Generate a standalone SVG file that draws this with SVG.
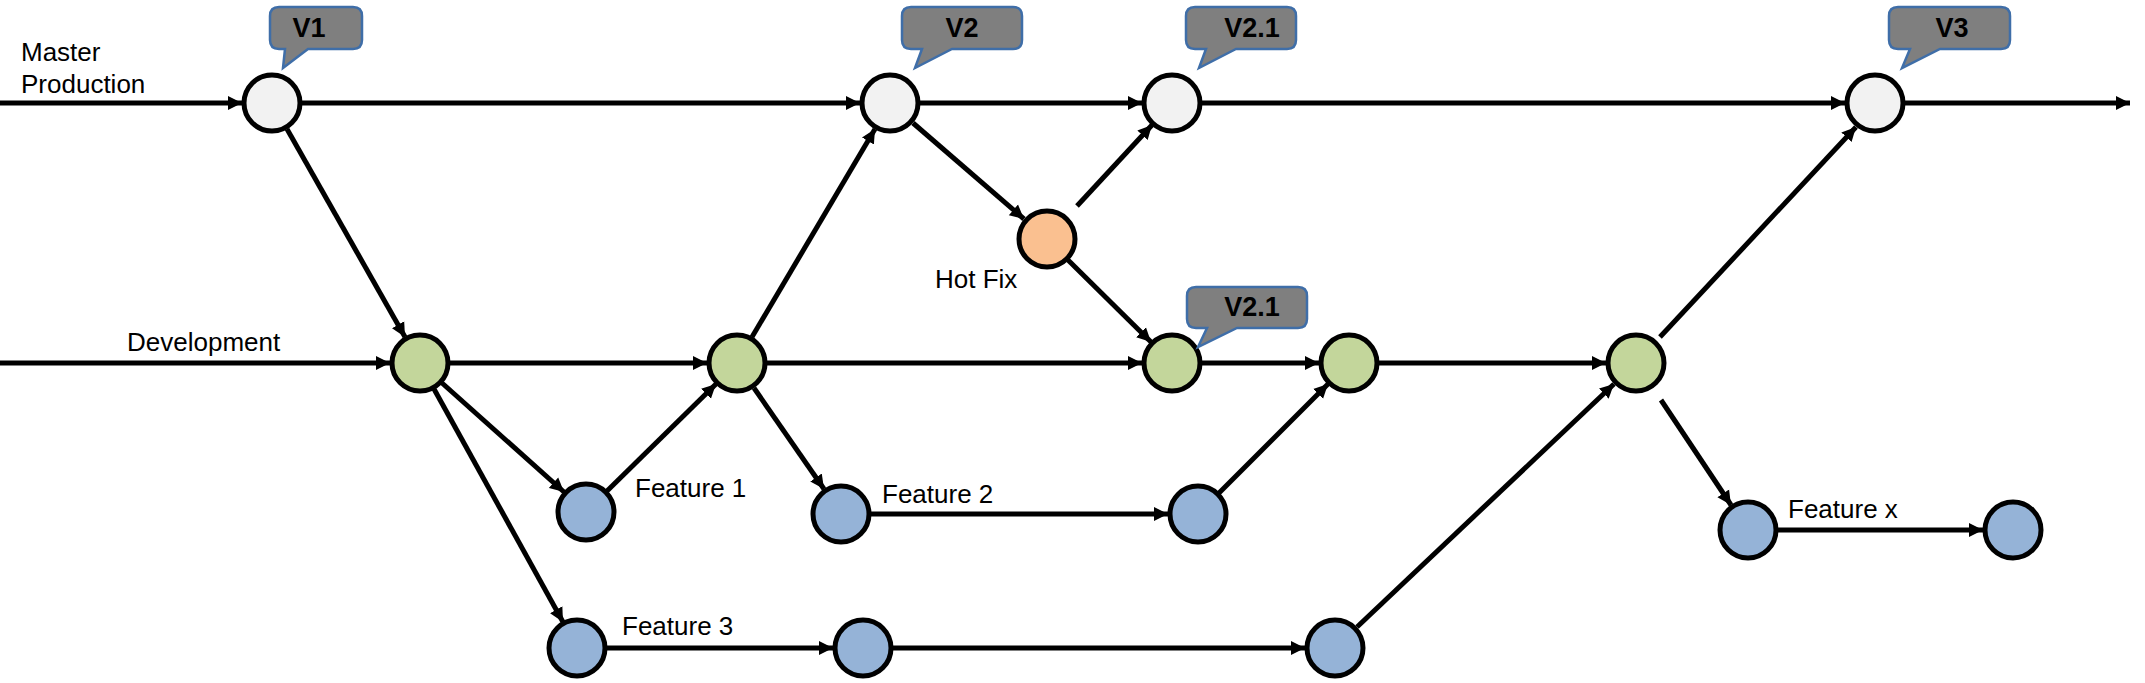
<svg xmlns="http://www.w3.org/2000/svg" width="2145" height="683" viewBox="0 0 2145 683">
<style>
.n{stroke:#000;stroke-width:5}
.m{fill:#F2F2F2}.d{fill:#C3D69B}.f{fill:#95B3D7}.h{fill:#FAC090}
.c line{stroke:#000;stroke-width:5;marker-end:url(#ah)}
.lbl{font-family:"Liberation Sans",Arial,sans-serif;font-size:26px;fill:#000}
.co{fill:#7F7F7F;stroke:#3F6EA8;stroke-width:2.5}
.ct{font-family:"Liberation Sans",Arial,sans-serif;font-size:27px;font-weight:bold;fill:#000;text-anchor:middle}
</style>
<defs>
<marker id="ah" markerUnits="userSpaceOnUse" markerWidth="15" markerHeight="15" refX="14" refY="7" orient="auto" viewBox="0 0 15 14">
<path d="M0,0 L14,7 L0,14 Z" fill="#000"/>
</marker>
</defs>
<rect width="2145" height="683" fill="#fff"/>
<g id="connectors" class="c">
<line x1="0" y1="103" x2="242" y2="103"/>
<line x1="302" y1="103" x2="860" y2="103"/>
<line x1="920" y1="103" x2="1142" y2="103"/>
<line x1="1202" y1="103" x2="1845" y2="103"/>
<line x1="1905" y1="103" x2="2130" y2="103"/>
<line x1="287" y1="129" x2="405" y2="337"/>
<line x1="0" y1="363" x2="390" y2="363"/>
<line x1="450" y1="363" x2="707" y2="363"/>
<line x1="767" y1="363" x2="1142" y2="363"/>
<line x1="1202" y1="363" x2="1319" y2="363"/>
<line x1="1379" y1="363" x2="1606" y2="363"/>
<line x1="752" y1="337" x2="875" y2="129"/>
<line x1="913" y1="123" x2="1024" y2="219"/>
<line x1="1077" y1="206" x2="1152" y2="125"/>
<line x1="1068" y1="260" x2="1151" y2="342"/>
<line x1="442" y1="383" x2="564" y2="492"/>
<line x1="607" y1="491" x2="716" y2="384"/>
<line x1="754" y1="388" x2="824" y2="489"/>
<line x1="871" y1="514" x2="1168" y2="514"/>
<line x1="1219" y1="493" x2="1328" y2="384"/>
<line x1="434" y1="389" x2="563" y2="622"/>
<line x1="607" y1="648" x2="833" y2="648"/>
<line x1="893" y1="648" x2="1305" y2="648"/>
<line x1="1357" y1="627" x2="1614" y2="384"/>
<line x1="1660" y1="337" x2="1856" y2="127"/>
<line x1="1661" y1="400" x2="1731" y2="505"/>
<line x1="1778" y1="530" x2="1983" y2="530"/>
</g>
<g id="master-label"><text class="lbl" x="21" y="61">Master</text><text class="lbl" x="21" y="93">Production</text></g>
<g id="dev-label"><text class="lbl" x="127" y="351">Development</text></g>
<g id="m1"><circle class="n m" cx="272" cy="103" r="28"/></g>
<g id="m2"><circle class="n m" cx="890" cy="103" r="28"/></g>
<g id="m3"><circle class="n m" cx="1172" cy="103" r="28"/></g>
<g id="m4"><circle class="n m" cx="1875" cy="103" r="28"/></g>
<g id="hotfix"><circle class="n h" cx="1047" cy="239" r="28"/><text class="lbl" x="935" y="288">Hot Fix</text></g>
<g id="d1"><circle class="n d" cx="420" cy="363" r="28"/></g>
<g id="d2"><circle class="n d" cx="737" cy="363" r="28"/></g>
<g id="d3"><circle class="n d" cx="1172" cy="363" r="28"/></g>
<g id="d4"><circle class="n d" cx="1349" cy="363" r="28"/></g>
<g id="d5"><circle class="n d" cx="1636" cy="363" r="28"/></g>
<g id="f1"><circle class="n f" cx="586" cy="512" r="28"/><text class="lbl" x="635" y="497">Feature 1</text></g>
<g id="f2a"><circle class="n f" cx="841" cy="514" r="28"/><text class="lbl" x="882" y="503">Feature 2</text></g>
<g id="f2b"><circle class="n f" cx="1198" cy="514" r="28"/></g>
<g id="f3a"><circle class="n f" cx="577" cy="648" r="28"/><text class="lbl" x="622" y="635">Feature 3</text></g>
<g id="f3b"><circle class="n f" cx="863" cy="648" r="28"/></g>
<g id="f3c"><circle class="n f" cx="1335" cy="648" r="28"/></g>
<g id="fx1"><circle class="n f" cx="1748" cy="530" r="28"/><text class="lbl" x="1788" y="518">Feature x</text></g>
<g id="fx2"><circle class="n f" cx="2013" cy="530" r="28"/></g>
<g id="tag-v1"><path class="co" d="M279,7 H353 Q362,7 362,16 V40 Q362,49 353,49 H308 L283,68 L285,49 H279 Q270,49 270,40 V16 Q270,7 279,7 Z"/><text class="ct" x="309" y="37">V1</text></g>
<g id="tag-v2"><path class="co" d="M911,7 H1013 Q1022,7 1022,16 V40 Q1022,49 1013,49 H952 L915,68 L922,49 H911 Q902,49 902,40 V16 Q902,7 911,7 Z"/><text class="ct" x="962" y="37">V2</text></g>
<g id="tag-v21a"><path class="co" d="M1195,7 H1287 Q1296,7 1296,16 V40 Q1296,49 1287,49 H1236 L1199,68 L1206,49 H1195 Q1186,49 1186,40 V16 Q1186,7 1195,7 Z"/><text class="ct" x="1252" y="37">V2.1</text></g>
<g id="tag-v3"><path class="co" d="M1898,7 H2001 Q2010,7 2010,16 V40 Q2010,49 2001,49 H1940 L1902,68 L1910,49 H1898 Q1889,49 1889,40 V16 Q1889,7 1898,7 Z"/><text class="ct" x="1952" y="37">V3</text></g>
<g id="tag-v21b"><path class="co" d="M1196,287 H1298 Q1307,287 1307,296 V319 Q1307,328 1298,328 H1237 L1198,347 L1207,328 H1196 Q1187,328 1187,319 V296 Q1187,287 1196,287 Z"/><text class="ct" x="1252" y="316">V2.1</text></g>
</svg>
